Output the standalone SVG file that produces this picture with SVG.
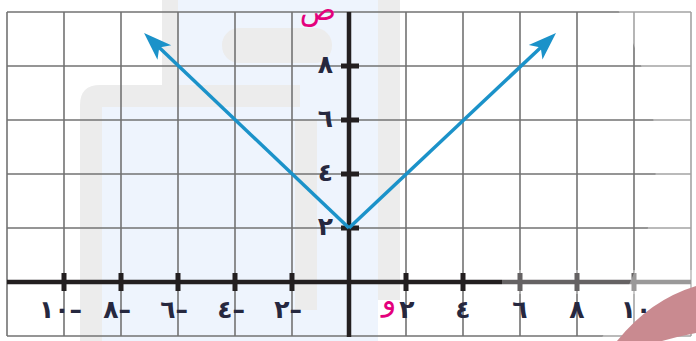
<svg xmlns="http://www.w3.org/2000/svg" width="696" height="341" viewBox="0 0 696 341">
  <style>
    .grid { stroke: #737373; stroke-width: 1.6; fill: none; }
    .axis { stroke: #231f20; stroke-width: 4.5; fill: none; }
    .tick { fill: #231f20; }
    .num { font-family: "DejaVu Sans", sans-serif; font-size: 25px; font-weight: bold; fill: #26283f; }
    .var { font-family: "DejaVu Sans", sans-serif; fill: #e4007c; }
    .fn { stroke: #1b92c9; stroke-width: 3.5; fill: none; }
    .wm-blue { fill: #eef4fd; }
    .wm-gray { fill: #ececec; }
  </style>
  <defs>
    <marker id="arrow" markerUnits="userSpaceOnUse" markerWidth="30" markerHeight="22" viewBox="0 0 30 22" refX="12" refY="11" orient="auto">
      <path d="M30,11 L2,1 L9,11 L2,21 Z" fill="#1b92c9"/>
    </marker>
  </defs>
  <rect x="0" y="0" width="696" height="341" fill="#ffffff"/>
  <g id="watermark">
    <path class="wm-blue" d="M178,0 H378 V341 H102 V107 H178 Z"/>
    <rect class="wm-gray" x="162" y="0" width="16" height="85"/>
    <path class="wm-gray" d="M80,341 V105 Q80,85 100,85 H300 V107 H102 V341 Z"/>
    <rect class="wm-gray" x="222" y="28" width="110" height="35" rx="17"/>
    <rect class="wm-gray" x="378" y="0" width="22" height="300"/>
    <rect class="wm-gray" x="295" y="120" width="22" height="190"/>
  </g>
  <g id="grid">
    <path class="grid" d="M7,12 V336 M64,12 V336 M121,12 V336 M178,12 V336 M235,12 V336 M292,12 V336 M406,12 V336 M463,12 V336 M520,12 V336 M577,12 V336 M634,12 V336 M691,12 V336"/>
    <path class="grid" d="M7,12 H691 M7,66 H691 M7,120 H691 M7,174 H691 M7,228 H691 M7,336 H691"/>
  </g>
  <g id="axes">
    <path class="axis" d="M7,282 H691"/>
    <path class="axis" d="M349,12 V337"/>
    <g id="x-ticks">
      <rect class="tick" x="61.5" y="273" width="5" height="18"/>
      <rect class="tick" x="118.5" y="273" width="5" height="18"/>
      <rect class="tick" x="175.5" y="273" width="5" height="18"/>
      <rect class="tick" x="232.5" y="273" width="5" height="18"/>
      <rect class="tick" x="289.5" y="273" width="5" height="18"/>
      <rect class="tick" x="403.5" y="273" width="5" height="18"/>
      <rect class="tick" x="460.5" y="273" width="5" height="18"/>
      <rect class="tick" x="517.5" y="273" width="5" height="18"/>
      <rect class="tick" x="574.5" y="273" width="5" height="18"/>
      <rect class="tick" x="631.5" y="273" width="5" height="18"/>
    </g>
    <g id="y-ticks">
      <rect class="tick" x="341" y="63.5" width="18" height="5"/>
      <rect class="tick" x="341" y="117.5" width="18" height="5"/>
      <rect class="tick" x="341" y="171.5" width="18" height="5"/>
      <rect class="tick" x="341" y="225.5" width="18" height="5"/>
    </g>
  </g>
  <g id="connectors">
    <path class="fn" d="M349,228 L157.1,45.5" marker-end="url(#arrow)"/>
    <path class="fn" d="M349,228 L542.9,45.4" marker-end="url(#arrow)"/>
  </g>
  <g id="overlay">
    <path d="M613,0 Q705,170 600,341 L696,341 L696,0 Z" fill="#ffffff" fill-opacity="0.35"/>
    <rect x="502" y="270" width="194" height="24" fill="#ffffff" fill-opacity="0.3"/>
    <path d="M617,341 Q650,300 696,286 L696,333 Q680,336 662,341 Z" fill="#c98a90"/>
  </g>
  <g id="labels">
    <text class="num" x="82" y="318" text-anchor="end">١٠–</text>
    <text class="num" x="131" y="318" text-anchor="end">٨–</text>
    <text class="num" x="188" y="318" text-anchor="end">٦–</text>
    <text class="num" x="245" y="318" text-anchor="end">٤–</text>
    <text class="num" x="302" y="318" text-anchor="end">٢–</text>
    <text class="num" x="407" y="318" text-anchor="middle">٢</text>
    <text class="num" x="463" y="318" text-anchor="middle">٤</text>
    <text class="num" x="520" y="318" text-anchor="middle">٦</text>
    <text class="num" x="577" y="318" text-anchor="middle">٨</text>
    <text class="num" x="636" y="318" text-anchor="middle">١٠</text>
    <text class="num" x="333" y="73" text-anchor="end">٨</text>
    <text class="num" x="333" y="127" text-anchor="end">٦</text>
    <text class="num" x="333" y="181" text-anchor="end">٤</text>
    <text class="num" x="333" y="235" text-anchor="end">٢</text>
    <text class="var" x="318" y="20" font-size="30" text-anchor="middle">ص</text>
    <text class="var" x="389" y="310" font-size="30" text-anchor="middle">و</text>
  </g>
</svg>
